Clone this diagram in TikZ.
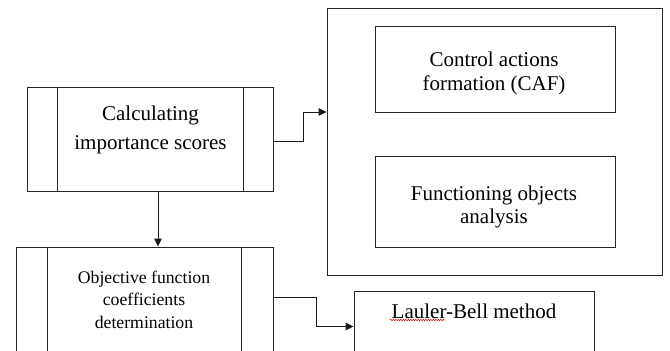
\documentclass[tikz,border=0pt]{standalone}
\usepackage{fontspec}
\setmainfont{Liberation Serif}
\usetikzlibrary{arrows.meta,decorations.pathmorphing}

\begin{document}
\begin{tikzpicture}[x=1pt,y=-1pt,
    box/.style={draw=black!85, line width=1pt, inner sep=0pt},
    bar/.style={draw=black!85, line width=1pt},
    txt/.style={align=center, inner sep=0pt, font=\fontsize{21}{24}\selectfont},
    arr/.style={draw=black!90, line width=1pt, -{Triangle[length=8pt,width=7.5pt]}},
    wavy/.style={draw=red!80!black, line width=0.5pt,
        decorate, decoration={snake, amplitude=0.7pt, segment length=2.5pt}}
]
    % Frame of the picture
    \useasboundingbox (0,0) rectangle (670,351);
    \clip (0,0) rectangle (670,351);

    % Calculating importance scores (process with side bars)
    \node[box, minimum width=246pt, minimum height=104pt] (cis) at (150,139) {};
    \draw[bar] ([xshift=31pt]cis.north west) -- ([xshift=31pt]cis.south west);
    \draw[bar] ([xshift=-30pt]cis.north east) -- ([xshift=-30pt]cis.south east);
    \node[txt, font=\fontsize{21}{29}\selectfont] (cist) at (150.5,129.5) {Calculating\\importance scores};

    % Objective function coefficients determination
    \node[box, minimum width=257pt, minimum height=124pt] (ofc) at (144.5,309) {};
    \draw[bar] ([xshift=32pt]ofc.north west) -- ([xshift=32pt]ofc.south west);
    \draw[bar] ([xshift=-32pt]ofc.north east) -- ([xshift=-32pt]ofc.south east);
    \node[txt, font=\fontsize{17.7}{22.5}\selectfont] (ofct) at (144,299.5) {Objective function\\coefficients\\determination};

    % System block with its two parts
    \node[box, minimum width=335pt, minimum height=267pt] (sys) at (494.5,141.5) {};
    \node[box, minimum width=240pt, minimum height=86pt] (caf) at (495,69) {};
    \node[txt] (caft) at (494,73) {Control actions\\formation (CAF)};
    \node[box, minimum width=240pt, minimum height=91pt] (foa) at (495,201.5) {};
    \node[txt, font=\fontsize{21}{23}\selectfont] (foat) at (494,207) {Functioning objects\\analysis};

    % Lauler-Bell method
    \node[box, minimum width=240pt, minimum height=90pt] (lbm) at (474,336) {};
    \node[txt] (lbmt) at (474,311) {Lauler-Bell method};
    \draw[wavy] (390,320) -- (445,320);

    % Connectors
    \draw[arr] ([yshift=-2pt]cis.east) -- ++(30,0) |- ([yshift=29.5pt]sys.west);
    \draw[arr] ([xshift=8pt]cis.south) -- ([xshift=8pt]cis.south |- ofc.north);
    \draw[arr] ([yshift=-51pt]ofc.north east) -- ++(43,0) |- ([yshift=-36pt]lbm.north west);

\end{tikzpicture}
\end{document}
